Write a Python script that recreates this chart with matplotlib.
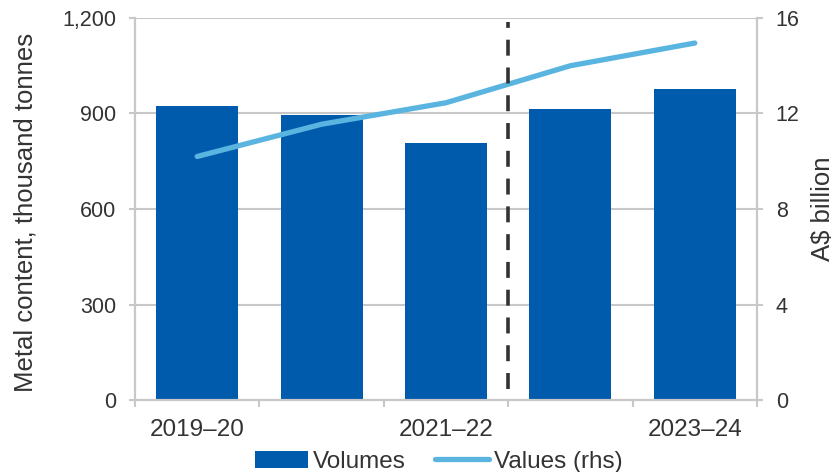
import matplotlib
matplotlib.use("Agg")
import matplotlib.pyplot as plt
from matplotlib.ticker import FuncFormatter

plt.rcParams['font.family'] = ['Liberation Sans', 'DejaVu Sans']
plt.rcParams['lines.scale_dashes'] = False

# data
years = ["2019–20", "2020–21", "2021–22", "2022–23", "2023–24"]
tick_labels = ["2019–20", "", "2021–22", "", "2023–24"]
volumes = [922, 894, 806, 914, 977]          # thousand tonnes
values = [10.2, 11.55, 12.45, 14.0, 14.95]   # A$ billion (rhs)

bar_color = "#005BAC"
line_color = "#5AB4E0"
grid_color = "#C8C8C8"
text_color = "#333333"

fig = plt.figure(figsize=(8.37, 4.72), dpi=100)
ax = fig.add_axes([0.1613, 0.1525, 0.7431, 0.8094])
ax2 = ax.twinx()

x = list(range(len(years)))

# Bars (volumes)
ax.bar(x, volumes, width=0.66, color=bar_color, zorder=2, label="Volumes")
ax.set_ylim(0, 1200)
ax.set_yticks([0, 300, 600, 900, 1200])
ax.yaxis.set_major_formatter(FuncFormatter(lambda v, p: f"{int(v):,}"))
ax.set_xlim(-0.5, len(years) - 0.5)
ax.set_xticks(x)
ax.set_xticklabels(tick_labels)
ax.set_xticks([i - 0.5 for i in range(len(years) + 1)], minor=True)
ax.tick_params(axis="x", which="major", length=0, pad=14, labelsize=17.5, labelcolor=text_color)
ax.tick_params(axis="x", which="minor", length=5, width=1.5, color=grid_color)
ax.tick_params(axis="y", length=4.5, width=1.5, color=grid_color, labelsize=15.5, labelcolor=text_color, pad=9)
ax.grid(axis="y", color=grid_color, linewidth=1.5, zorder=0)
ax.set_axisbelow(True)
ax.set_ylabel("Metal content, thousand tonnes", fontsize=18.5, color=text_color)
ax.yaxis.set_label_coords(-0.157, 0.49)

# Line (values, rhs)
ax2.plot(x, values, color=line_color, linewidth=3.8, solid_capstyle="round", zorder=3, label="Values (rhs)")
ax2.set_ylim(0, 16)
ax2.set_yticks([0, 4, 8, 12, 16])
ax2.tick_params(axis="y", length=4.5, width=1.5, color=grid_color, labelsize=15.5, labelcolor=text_color, pad=9)
ax2.set_ylabel("A$ billion", fontsize=18.5, color=text_color, labelpad=8)

# dashed divider
ax2.axvline(2.5, ymin=0.03, ymax=0.99, color="#333333", linewidth=2.6,
            linestyle=(0, (11.5, 8.5)), zorder=4)

for a in (ax, ax2):
    a.spines["top"].set_visible(False)
    for s in ("left", "right", "bottom"):
        a.spines[s].set_color(grid_color)
        a.spines[s].set_linewidth(1.5)

h1, l1 = ax.get_legend_handles_labels()
h2, l2 = ax2.get_legend_handles_labels()
fig.legend(h1 + h2, l1 + l2, loc="center", bbox_to_anchor=(0.524, 0.022), ncol=2,
           frameon=False, fontsize=17.5, handlelength=2.2, handletextpad=0.2,
           columnspacing=1.2, labelcolor=text_color)

fig.savefig("out.png", dpi=100)
